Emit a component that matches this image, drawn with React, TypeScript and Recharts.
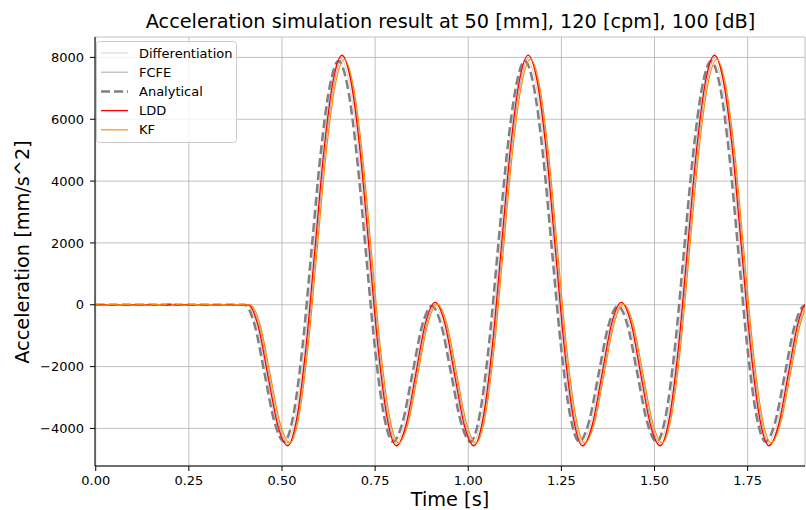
import React from 'react';
import { LineChart, Line, XAxis, YAxis, CartesianGrid } from 'recharts';

// ---- data ----
const analyticalT = [0, 0.4, 0.4265, 0.453, 0.4795, 0.506,
  0.530, 0.555, 0.579, 0.603, 0.628, 0.652, 0.676, 0.701, 0.725, 0.749, 0.774, 0.798,
  0.824, 0.850, 0.876, 0.902, 0.928, 0.954, 0.980, 1.006,
  1.030, 1.055, 1.079, 1.103, 1.128, 1.152, 1.176, 1.201, 1.225, 1.249, 1.274, 1.298,
  1.324, 1.350, 1.376, 1.402, 1.428, 1.454, 1.480, 1.506,
  1.530, 1.555, 1.579, 1.603, 1.628, 1.652, 1.676, 1.701, 1.725, 1.749, 1.774, 1.798,
  1.824, 1.850, 1.876, 1.902, 1.928];
const analyticalV = [0, 0, -650, -2215, -3780, -4430,
  -3605, -1353, 1725, 4803, 7055, 7880, 7055, 4803, 1725, -1353, -3605, -4430,
  -3787, -2235, -683, -40, -683, -2235, -3787, -4430,
  -3605, -1353, 1725, 4803, 7055, 7885, 7055, 4803, 1725, -1353, -3605, -4430,
  -3787, -2235, -683, -40, -683, -2235, -3787, -4430,
  -3605, -1353, 1725, 4803, 7055, 7880, 7055, 4803, 1725, -1353, -3605, -4430,
  -3787, -2235, -683, -40, -683];

const lddT = [0, 0.409, 0.4355, 0.462, 0.4885, 0.515,
  0.539, 0.564, 0.588, 0.612, 0.637, 0.661, 0.685, 0.710, 0.734, 0.758, 0.783, 0.807,
  0.833, 0.859, 0.885, 0.911, 0.937, 0.963, 0.989, 1.015,
  1.039, 1.064, 1.088, 1.112, 1.137, 1.161, 1.185, 1.210, 1.234, 1.258, 1.283, 1.307,
  1.333, 1.359, 1.385, 1.411, 1.437, 1.463, 1.489, 1.515,
  1.539, 1.564, 1.588, 1.612, 1.637, 1.661, 1.685, 1.710, 1.734, 1.758, 1.783, 1.807,
  1.833, 1.859, 1.885, 1.911, 1.937];
const lddV = [0, 0, -668, -2280, -3892, -4560,
  -3714, -1403, 1755, 4913, 7224, 8070, 7224, 4913, 1755, -1403, -3714, -4560,
  -3880, -2240, -600, 80, -600, -2240, -3880, -4560,
  -3714, -1403, 1755, 4913, 7224, 8075, 7224, 4913, 1755, -1403, -3714, -4560,
  -3880, -2240, -600, 80, -600, -2240, -3880, -4560,
  -3714, -1403, 1755, 4913, 7224, 8070, 7224, 4913, 1755, -1403, -3714, -4560,
  -3880, -2240, -600, 80, -600];

const kfT = [0, 0.02, 0.04, 0.06, 0.08, 0.10, 0.12, 0.14, 0.16, 0.18, 0.20, 0.21, 0.22, 0.24, 0.26, 0.28, 0.30, 0.32, 0.34, 0.36, 0.38, 0.40,
  0.415, 0.4415, 0.468, 0.4945, 0.521,
  0.545, 0.570, 0.594, 0.618, 0.643, 0.667, 0.691, 0.716, 0.740, 0.764, 0.789, 0.813,
  0.839, 0.865, 0.891, 0.917, 0.943, 0.969, 0.995, 1.021,
  1.045, 1.070, 1.094, 1.118, 1.143, 1.167, 1.191, 1.216, 1.240, 1.264, 1.289, 1.313,
  1.339, 1.365, 1.391, 1.417, 1.443, 1.469, 1.495, 1.521,
  1.545, 1.570, 1.594, 1.618, 1.643, 1.667, 1.691, 1.716, 1.740, 1.764, 1.789, 1.813,
  1.839, 1.865, 1.891, 1.917, 1.943];
const kfV = [5, -12, 10, -6, 14, -9, 7, -15, 11, -4, 40, -10, 8, -13, 12, -7, 15, -10, 6, -12, 9, -5,
  0, -655, -2235, -3815, -4470,
  -3639, -1368, 1735, 4838, 7109, 7940, 7109, 4838, 1735, -1368, -3639, -4470,
  -3812, -2225, -638, 20, -638, -2225, -3812, -4470,
  -3639, -1368, 1735, 4838, 7109, 7945, 7109, 4838, 1735, -1368, -3639, -4470,
  -3812, -2225, -638, 20, -638, -2225, -3812, -4470,
  -3639, -1368, 1735, 4838, 7109, 7940, 7109, 4838, 1735, -1368, -3639, -4470,
  -3812, -2225, -638, 20, -638];

const diffT = [0, 0.405, 0.4315, 0.458, 0.4845, 0.511,
  0.535, 0.560, 0.584, 0.608, 0.633, 0.657, 0.681, 0.706, 0.730, 0.754, 0.779, 0.803,
  0.829, 0.855, 0.881, 0.907, 0.933, 0.959, 0.985, 1.011,
  1.035, 1.060, 1.084, 1.108, 1.133, 1.157, 1.181, 1.206, 1.230, 1.254, 1.279, 1.303,
  1.329, 1.355, 1.381, 1.407, 1.433, 1.459, 1.485, 1.511,
  1.535, 1.560, 1.584, 1.608, 1.633, 1.657, 1.681, 1.706, 1.730, 1.754, 1.779, 1.803,
  1.829, 1.855, 1.881, 1.907, 1.933];
const diffV = [0, 0, -659, -2250, -3841, -4500,
  -3664, -1380, 1740, 4860, 7144, 7980, 7144, 4860, 1740, -1380, -3664, -4500,
  -3838, -2240, -642, 20, -642, -2240, -3838, -4500,
  -3664, -1380, 1740, 4860, 7144, 7980, 7144, 4860, 1740, -1380, -3664, -4500,
  -3838, -2240, -642, 20, -642, -2240, -3838, -4500,
  -3664, -1380, 1740, 4860, 7144, 7980, 7144, 4860, 1740, -1380, -3664, -4500,
  -3838, -2240, -642, 20, -642];

const fcfeT = [0, 0.412, 0.4385, 0.465, 0.4915, 0.518,
  0.542, 0.567, 0.591, 0.615, 0.640, 0.664, 0.688, 0.713, 0.737, 0.761, 0.786, 0.810,
  0.836, 0.862, 0.888, 0.914, 0.940, 0.966, 0.992, 1.018,
  1.042, 1.067, 1.091, 1.115, 1.140, 1.164, 1.188, 1.213, 1.237, 1.261, 1.286, 1.310,
  1.336, 1.362, 1.388, 1.414, 1.440, 1.466, 1.492, 1.518,
  1.542, 1.567, 1.591, 1.615, 1.640, 1.664, 1.688, 1.713, 1.737, 1.761, 1.786, 1.810,
  1.836, 1.862, 1.888, 1.914, 1.940];
const fcfeV = [0, 0, -662, -2260, -3858, -4520,
  -3681, -1390, 1740, 4870, 7161, 8000, 7161, 4870, 1740, -1390, -3681, -4520,
  -3852, -2240, -628, 40, -628, -2240, -3852, -4520,
  -3681, -1390, 1740, 4870, 7161, 8000, 7161, 4870, 1740, -1390, -3681, -4520,
  -3852, -2240, -628, 40, -628, -2240, -3852, -4520,
  -3681, -1390, 1740, 4870, 7161, 8000, 7161, 4870, 1740, -1390, -3681, -4520,
  -3852, -2240, -628, 40, -628];

const xTicks = [0, 0.25, 0.5, 0.75, 1.0, 1.25, 1.5, 1.75];
const yTicks = [-4000, -2000, 0, 2000, 4000, 6000, 8000];

const seriesNames = ['Differentiation', 'FCFE', 'Analytical', 'LDD', 'KF'];

const titleText = 'Acceleration simulation result at 50 [mm], 120 [cpm], 100 [dB]';
const xLabel = 'Time [s]';
const yLabel = 'Acceleration [mm/s^2]';

// ---- build ----
const toData = (ts: number[], vs: number[]) => ts.map((t, i) => ({ t, v: vs[i] }));

const styles: Record<string, { color: string; width: number; dash?: string }> = {
  Differentiation: { color: '#d3d3d3', width: 1 },
  FCFE: { color: '#a9a9a9', width: 1 },
  Analytical: { color: '#808080', width: 2.5, dash: '9 4' },
  LDD: { color: '#ff0000', width: 1.3 },
  KF: { color: '#ff8c00', width: 1.2 },
};

const seriesData: Record<string, { t: number; v: number }[]> = {
  Differentiation: toData(diffT, diffV),
  FCFE: toData(fcfeT, fcfeV),
  Analytical: toData(analyticalT, analyticalV),
  LDD: toData(lddT, lddV),
  KF: toData(kfT, kfV),
};

const FONT = '"DejaVu Sans", Verdana, sans-serif';
const LABEL_SIZE = 19.3;

const fmtY = (v: number) => (v < 0 ? '\u2212' + Math.abs(v) : String(v));
const fmtX = (v: number) => v.toFixed(2);

export default function App() {
  return (
    <div style={{ position: 'absolute', left: 0, top: 0, width: 806, height: 510, background: '#fff', fontFamily: FONT }}>
      <LineChart width={806} height={510} margin={{ top: 37, right: 1, left: 0, bottom: 0 }}>
        <CartesianGrid stroke="#b0b0b0" strokeWidth={0.8} />
        <XAxis
          dataKey="t"
          type="number"
          domain={[-0.002, 1.904]}
          allowDataOverflow
          ticks={xTicks}
          tickFormatter={fmtX}
          height={44}
          tickSize={5}
          tickMargin={5}
          interval={0}
          stroke="#000"
          tick={{ fill: '#000', fontSize: 13, fontFamily: FONT }}
          label={{
            content: () => (
              <text x={450} y={506} textAnchor="middle" fontSize={LABEL_SIZE} fontFamily={FONT} fill="#000">
                {xLabel}
              </text>
            ),
          }}
        />
        <XAxis xAxisId="top" orientation="top" type="number" domain={[-0.002, 1.904]} height={0} tick={false} tickLine={false} stroke="#000" />
        <YAxis
          type="number"
          domain={[-5215, 8660]}
          allowDataOverflow
          ticks={yTicks}
          tickFormatter={fmtY}
          width={95}
          tickSize={5}
          tickMargin={6}
          interval={0}
          stroke="#000"
          tick={{ fill: '#000', fontSize: 13, fontFamily: FONT }}
          label={{
            content: () => (
              <text x={22} y={252} transform="rotate(-90 22 252)" textAnchor="middle" dominantBaseline="central" fontSize={LABEL_SIZE} fontFamily={FONT} fill="#000">
                {yLabel}
              </text>
            ),
          }}
        />
        <YAxis yAxisId="right" orientation="right" width={0} tick={false} tickLine={false} stroke="#000" />
        {seriesNames.map((n) => (
          <Line
            key={n}
            name={n}
            data={seriesData[n]}
            dataKey="v"
            type="monotone"
            dot={false}
            activeDot={false}
            stroke={styles[n].color}
            strokeWidth={styles[n].width}
            strokeDasharray={styles[n].dash}
            isAnimationActive={false}
          />
        ))}
      </LineChart>
      <div style={{ position: 'absolute', left: 95, top: 11, width: 711, textAlign: 'center', fontSize: LABEL_SIZE, lineHeight: '22px', color: '#000', whiteSpace: 'nowrap' }}>
        {titleText}
      </div>
      <svg style={{ position: 'absolute', left: 96, top: 41 }} width={142} height={103}>
        <rect x={0.5} y={0.5} width={140} height={101} rx={3} fill="rgba(255,255,255,0.8)" stroke="#cccccc" />
        {seriesNames.map((n, i) => {
          const cy = 12 + i * 19.2;
          return (
            <g key={n}>
              <line x1={5} x2={32} y1={cy} y2={cy} stroke={styles[n].color} strokeWidth={styles[n].width} strokeDasharray={styles[n].dash} />
              <text x={43} y={cy} dominantBaseline="central" fontSize={13} fontFamily={FONT} fill="#000">{n}</text>
            </g>
          );
        })}
      </svg>
    </div>
  );
}
